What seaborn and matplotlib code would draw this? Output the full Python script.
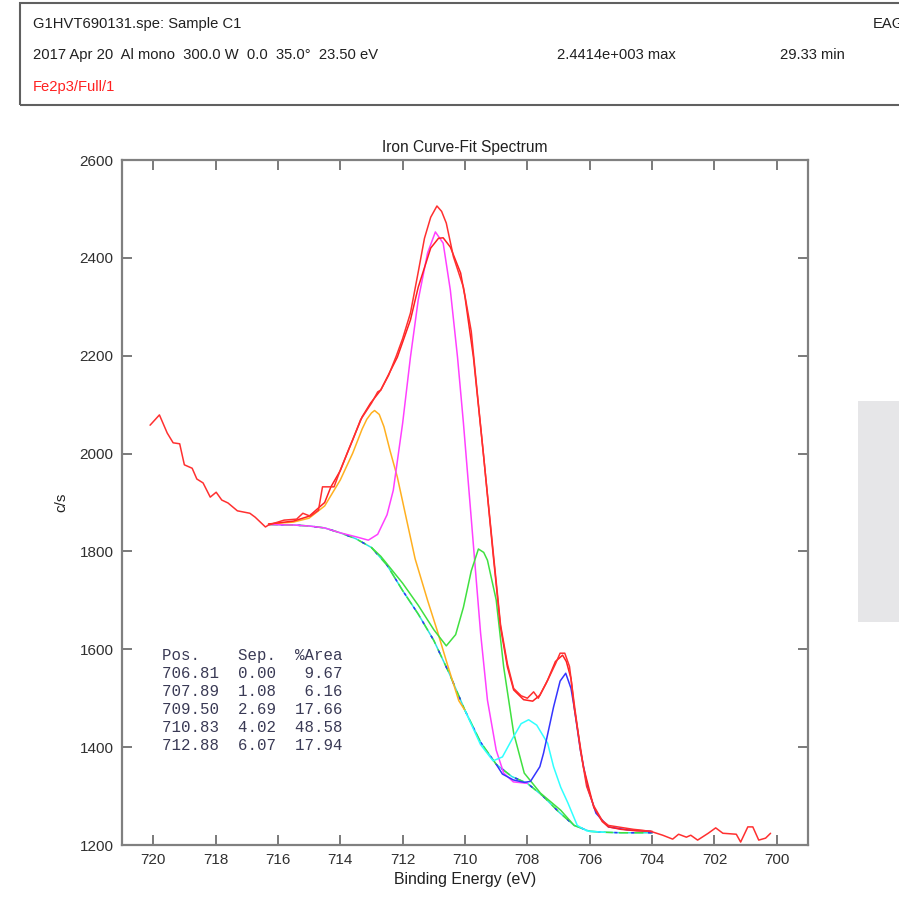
import numpy as np
import pandas as pd
import seaborn as sns
import matplotlib.pyplot as plt
from matplotlib.patches import Rectangle

# raw counts (noisy red trace)
raw_be = [720.1, 719.8, 719.55, 719.36, 719.15, 719.0, 718.75, 718.6, 718.4, 718.17, 717.98, 717.8,
          717.6, 717.3, 716.9, 716.73, 716.4, 716.3, 715.8, 715.4, 715.2, 714.96, 714.7, 714.57, 714.2,
          714.0, 713.8, 713.6, 713.35, 713.0, 712.8, 712.7, 712.45, 712.2, 712.0, 711.75, 711.5, 711.3,
          711.1, 710.9, 710.75, 710.6, 710.37, 710.05, 709.8, 709.6, 709.4, 709.09, 708.86, 708.64,
          708.44, 708.2, 708.0, 707.8, 707.65, 707.4, 707.1, 706.95, 706.8, 706.65, 706.5, 706.3,
          706.1, 705.87, 705.6, 705.4, 705.0, 704.6, 704.3, 704.0, 703.66, 703.34, 703.15, 702.9,
          702.76, 702.54, 702.2, 701.96, 701.73, 701.3, 701.16, 700.93, 700.77, 700.58, 700.36, 700.2]
raw_cps = [2058, 2079, 2042, 2022, 2020, 1977, 1970, 1948, 1940, 1911, 1921, 1905,
           1899, 1883, 1878, 1870, 1850, 1854, 1864, 1866, 1878, 1872, 1884, 1932, 1932,
           1966, 1997, 2028, 2069, 2103, 2126, 2130, 2160, 2200, 2235, 2287, 2371, 2440,
           2483, 2506, 2495, 2471, 2402, 2340, 2250, 2120, 1993, 1795, 1650, 1570,
           1520, 1505, 1500, 1513, 1500, 1530, 1570, 1592, 1592, 1565, 1490, 1395,
           1320, 1280, 1250, 1240, 1236, 1232, 1230, 1227, 1220, 1212, 1222, 1216,
           1220, 1210, 1224, 1235, 1224, 1222, 1206, 1237, 1237, 1210, 1214, 1224]

# fitted envelope
env_be = [716.3, 715.5, 715.0, 714.5, 714.3, 714.0, 713.74, 713.3, 713.03, 712.7, 712.17, 711.75,
          711.5, 711.1, 710.85, 710.7, 710.47, 710.14, 710.0, 709.73, 709.4, 709.09, 708.86, 708.64,
          708.44, 708.12, 707.83, 707.6, 707.35, 707.1, 706.87, 706.75, 706.6, 706.5, 706.3, 706.2,
          705.87, 705.6, 705.4, 705.0, 704.5, 704.0]
env_cps = [1856, 1862, 1872, 1900, 1932, 1965, 2007, 2075, 2103, 2130, 2197, 2273,
           2340, 2420, 2440, 2441, 2422, 2369, 2320, 2197, 1993, 1789, 1645, 1564,
           1517, 1497, 1494, 1506, 1537, 1575, 1588, 1575, 1540, 1482, 1400, 1359,
           1277, 1248, 1237, 1232, 1229, 1228]

# Shirley background
bg_be = [716.3, 715.5, 715.0, 714.5, 714.0, 713.5, 713.0, 712.5, 712.0, 711.5, 711.0, 710.5,
         710.0, 709.5, 709.0, 708.5, 708.0, 707.5, 707.0, 706.5, 706.0, 705.5, 705.0, 704.5, 704.0]
bg_cps = [1855, 1854, 1852, 1848, 1838, 1826, 1808, 1772, 1720, 1672, 1618, 1550,
          1475, 1410, 1365, 1340, 1326, 1300, 1268, 1240, 1228, 1226, 1225, 1225, 1225]

# components (peak + background) where they leave the background
p1_be = [708.8, 708.45, 708.1, 707.9, 707.6, 707.48, 707.16, 706.95, 706.77, 706.6, 706.5,
         706.3, 706.07, 705.8, 705.4, 704.8, 704.05]
p1_cps = [1345, 1333, 1328, 1330, 1360, 1388, 1482, 1535, 1551, 1520, 1482,
          1394, 1318, 1265, 1237, 1231, 1228]
p2_be = [709.5, 709.1, 708.8, 708.5, 708.2, 707.96, 707.7, 707.35, 707.16, 706.93, 706.7, 706.4, 706.1]
p2_cps = [1405, 1372, 1380, 1415, 1448, 1456, 1445, 1408, 1360, 1318, 1286, 1240, 1229]
p3_be = [712.7, 712.0, 711.5, 711.0, 710.6, 710.3, 710.05, 709.8, 709.57, 709.4, 709.28, 709.0,
         708.76, 708.44, 708.1, 707.58, 706.93]
p3_cps = [1790, 1735, 1690, 1640, 1607, 1630, 1686, 1760, 1805, 1798, 1782, 1701,
          1564, 1429, 1347, 1306, 1271]
p4_be = [713.5, 713.1, 712.8, 712.5, 712.3, 712.0, 711.75, 711.5, 711.2, 710.95, 710.7, 710.47,
         710.24, 710.05, 709.83, 709.7, 709.5, 709.28, 709.0, 708.76, 708.45]
p4_cps = [1830, 1823, 1835, 1875, 1925, 2062, 2197, 2314, 2410, 2453, 2430, 2334,
          2197, 2062, 1891, 1789, 1633, 1496, 1394, 1347, 1329]
p5_be = [716.3, 715.5, 715.0, 714.5, 714.0, 713.6, 713.3, 713.15, 713.0, 712.9, 712.75, 712.6,
         712.4, 712.17, 711.85, 711.6, 711.2, 710.9, 710.56, 710.2]
p5_cps = [1856, 1860, 1868, 1893, 1946, 2001, 2050, 2070, 2083, 2088, 2080, 2055,
          2005, 1952, 1858, 1785, 1700, 1640, 1568, 1495]

pos = [706.81, 707.89, 709.50, 710.83, 712.88]
sep = [0.00, 1.08, 2.69, 4.02, 6.07]
area = [9.67, 6.16, 17.66, 48.58, 17.94]

bg = pd.DataFrame({"be": bg_be, "cps": bg_cps})


def with_bg(xs, ys, left_all=False, margin=0.6):
    # join a component onto the background just outside its own span
    lo, hi = min(xs), max(xs)
    left = bg[bg.be > hi] if left_all else bg[(bg.be > hi) & (bg.be <= hi + margin)]
    right = bg[(bg.be < lo) & (bg.be >= lo - margin)]
    df = pd.concat([left, pd.DataFrame({"be": xs, "cps": ys}), right])
    return df.sort_values("be", ascending=False)


sns.set_style("white")
plt.rcParams['font.family'] = ['Liberation Sans', 'DejaVu Sans']

fig = plt.figure(figsize=(8.99, 8.97), dpi=100)
ax = fig.add_axes([122 / 899, 52 / 897, 686 / 899, 685 / 897])

lw = 1.1
sns.lineplot(data=bg, x="be", y="cps", color="#30e0e0", lw=lw, sort=False, ax=ax)
sns.lineplot(data=bg, x="be", y="cps", color="#40e040", lw=lw, sort=False, ax=ax,
             linestyle=(0, (6, 4)))
sns.lineplot(data=bg, x="be", y="cps", color="#3030ff", lw=lw, sort=False, ax=ax,
             linestyle=(3, (2, 9)))

comps = [(p5_be, p5_cps, "#ffb020", False), (p4_be, p4_cps, "#ff40ff", True),
         (p3_be, p3_cps, "#40e040", False), (p2_be, p2_cps, "#30ffff", False),
         (p1_be, p1_cps, "#3535ff", False)]
for xs, ys, c, full in comps:
    d = with_bg(xs, ys, left_all=full)
    sns.lineplot(data=d, x="be", y="cps", color=c, lw=lw, sort=False, ax=ax)

sns.lineplot(x=env_be, y=env_cps, color="#ff2020", lw=lw, sort=False, ax=ax)
sns.lineplot(x=raw_be, y=raw_cps, color="#ff3030", lw=lw, sort=False, ax=ax)

ax.set_xlim(721, 699)
ax.set_ylim(1200, 2600)
ax.set_xticks(np.arange(720, 699, -2))
ax.set_yticks(np.arange(1200, 2601, 200))
ax.tick_params(direction="in", length=7, width=1.3, color="#707070", labelcolor="#303030",
               labelsize=11, top=True, right=True, bottom=True, left=True, pad=6)
for s in ax.spines.values():
    s.set_color("#808080")
    s.set_linewidth(1.6)
ax.set_title("Iron Curve-Fit Spectrum", fontsize=11.2, color="#202020", pad=6)
ax.set_xlabel("Binding Energy (eV)", fontsize=11.4, color="#202020", labelpad=3)
ax.set_ylabel("c/s", fontsize=11, color="#202020", labelpad=8)

# fit table
rows = ["Pos.    Sep.  %Area"]
for p, s, a in zip(pos, sep, area):
    rows.append(f"{p:6.2f}  {s:4.2f}  {a:5.2f}")
for i, r in enumerate(rows):
    ax.text(162 / 899, 1 - (655 + 18 * i) / 897, r, transform=fig.transFigure,
            family="Liberation Mono", fontsize=11.3, color="#3a3a55", va="center")

# header box
fig.add_artist(Rectangle((20 / 899, 1 - 105 / 897), 0.99, 102 / 897, transform=fig.transFigure,
                         fill=False, edgecolor="#606060", lw=1.5))
hkw = dict(fontsize=10.6, color="#202020", va="center")
fig.text(33 / 899, 1 - 24 / 897, "G1HVT690131.spe: Sample C1", **hkw)
fig.text(873 / 899, 1 - 24 / 897, "EAG", **hkw)
fig.text(33 / 899, 1 - 55 / 897, "2017 Apr 20  Al mono  300.0 W  0.0  35.0°  23.50 eV", **hkw)
fig.text(557 / 899, 1 - 55 / 897, "2.4414e+003 max", **hkw)
fig.text(780 / 899, 1 - 55 / 897, "29.33 min", **hkw)
fig.text(33 / 899, 1 - 87 / 897, "Fe2p3/Full/1", fontsize=10.6, color="#ff2020", va="center")

fig.add_artist(Rectangle((858 / 899, 1 - 622 / 897), 50 / 899, 221 / 897, transform=fig.transFigure,
                         facecolor="#e6e6e8", edgecolor="none"))

fig.savefig("out.png", dpi=100)
